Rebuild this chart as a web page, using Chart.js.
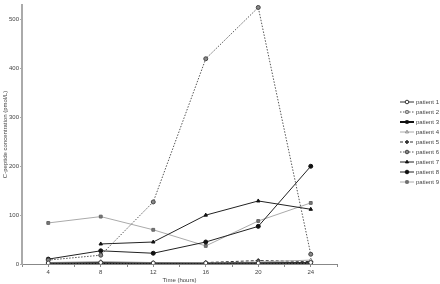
<!DOCTYPE html>
<html>
<head>
<meta charset="utf-8">
<script src="https://cdn.jsdelivr.net/npm/chart.js@4/dist/chart.umd.min.js"></script>
<style>
  html, body { margin: 0; padding: 0; background: #fff; }
  #wrap { width: 440px; height: 284px; }
</style>
</head>
<body>
<div id="wrap"><canvas id="chart" width="440" height="284"></canvas></div>
<script>
// Heures de prélèvement
const hours = [4, 8, 12, 16, 20, 24];
const xTickLabels = [4, 8, 12, 16, 20, 24];
const yTickLabels = [0, 100, 200, 300, 400, 500];

// Concentrations de C-peptide (pmol/L) par patient
const patient1 = [2, 3, 2, 2, 2, 3];
const patient2 = [1, 1, 1, 1, 1, 1];
const patient3 = [0, 0, 0, 0, 1, 2];
const patient4 = [3, 5, 3, 2, 4, 8];
const patient5 = [null, null, null, 3, 7, 5];
const patient6 = [8, 18, 127, 420, 525, 20];
const patient7 = [null, 41, 45, 100, 129, 112];
const patient8 = [10, 27, 22, 45, 77, 200];
const patient9 = [84, 97, 70, 37, 88, 125];

const FONT = '"Liberation Sans", Arial, sans-serif';

function toPoints(values) {
    return hours.map((h, i) => ({ x: h, y: values[i] }));
}

function makeSet(label, values, style) {
    return Object.assign({
        label: label,
        data: toPoints(values),
        borderWidth: 1,
        pointRadius: 2,
        pointBorderWidth: 1,
        tension: 0,
        spanGaps: false
    }, style);
}

const datasets = [
    makeSet('patient 1', patient1, { borderColor: '#333', pointStyle: 'circle', pointBackgroundColor: '#fff', pointBorderColor: '#333' }),
    makeSet('patient 2', patient2, { borderColor: '#555', borderDash: [1.5, 1.5], pointStyle: 'rect', pointBackgroundColor: '#fff', pointBorderColor: '#555' }),
    makeSet('patient 3', patient3, { borderColor: '#111', borderWidth: 2, pointStyle: 'rect', pointBackgroundColor: '#111', pointBorderColor: '#111' }),
    makeSet('patient 4', patient4, { borderColor: '#aaa', pointStyle: 'triangle', pointBackgroundColor: '#fff', pointBorderColor: '#888' }),
    makeSet('patient 5', patient5, { borderColor: '#333', borderDash: [3, 2], pointStyle: 'rectRot', pointBackgroundColor: '#333', pointBorderColor: '#333' }),
    makeSet('patient 6', patient6, { borderColor: '#555', borderDash: [1.5, 1.5], pointStyle: 'circle', pointBackgroundColor: '#888', pointBorderColor: '#444' }),
    makeSet('patient 7', patient7, { borderColor: '#222', pointStyle: 'triangle', pointBackgroundColor: '#111', pointBorderColor: '#111' }),
    makeSet('patient 8', patient8, { borderColor: '#222', pointStyle: 'circle', pointBackgroundColor: '#111', pointBorderColor: '#111' }),
    makeSet('patient 9', patient9, { borderColor: '#aaa', pointStyle: 'rect', pointBackgroundColor: '#777', pointBorderColor: '#666' })
];

// Légende dessinée à la main (trait + marqueur)
const sideLegend = {
    id: 'sideLegend',
    afterDraw(chart) {
        const ctx = chart.ctx;
        const x0 = 400, x1 = 414, y0 = 102, step = 10;
        ctx.save();
        ctx.font = '6px ' + FONT;
        ctx.textBaseline = 'middle';
        chart.data.datasets.forEach((ds, i) => {
            const y = y0 + i * step;
            ctx.strokeStyle = ds.borderColor;
            ctx.lineWidth = ds.borderWidth;
            ctx.setLineDash(ds.borderDash || []);
            ctx.beginPath();
            ctx.moveTo(x0, y);
            ctx.lineTo(x1, y);
            ctx.stroke();
            ctx.setLineDash([]);
            ctx.fillStyle = ds.pointBackgroundColor;
            ctx.strokeStyle = ds.pointBorderColor;
            ctx.lineWidth = 1;
            Chart.helpers.drawPoint(ctx, { pointStyle: ds.pointStyle, radius: 1.8, borderWidth: 1, rotation: 0 }, (x0 + x1) / 2, y);
            ctx.fillStyle = '#444';
            ctx.fillText(ds.label, 416, y + 0.5);
        });
        ctx.restore();
    }
};

new Chart(document.getElementById('chart').getContext('2d'), {
    type: 'line',
    data: { datasets: datasets },
    plugins: [sideLegend],
    options: {
        responsive: false,
        animation: false,
        layout: { padding: { left: 0, right: 103, top: 2, bottom: 0 } },
        plugins: {
            legend: { display: false },
            tooltip: { enabled: false }
        },
        scales: {
            x: {
                type: 'linear',
                min: 2,
                max: 26,
                afterFit: s => { s.height = 20; },
                grid: { drawOnChartArea: false, tickLength: 3, color: '#888' },
                border: { color: '#888', width: 1 },
                ticks: {
                    stepSize: 2,
                    autoSkip: false,
                    maxRotation: 0,
                    padding: 2,
                    color: '#444',
                    font: { family: FONT, size: 6 },
                    callback: v => xTickLabels.includes(v) ? String(v) : ''
                },
                title: {
                    display: true,
                    text: 'Time (hours)',
                    color: '#444',
                    padding: 0,
                    font: { family: FONT, size: 6 }
                }
            },
            y: {
                min: 0,
                max: 530,
                afterFit: s => { s.width = 22; },
                afterBuildTicks: s => { s.ticks = s.ticks.filter(t => yTickLabels.includes(t.value)); },
                grid: { drawOnChartArea: false, tickLength: 2, color: '#aaa' },
                border: { color: '#aaa', width: 2 },
                ticks: {
                    stepSize: 100,
                    padding: 1,
                    color: '#444',
                    font: { family: FONT, size: 6 }
                },
                title: {
                    display: true,
                    text: 'C-peptide concentration (pmol/L)',
                    color: '#444',
                    padding: { top: 2, bottom: 0 },
                    font: { family: FONT, size: 6 }
                }
            }
        }
    }
});
</script>
</body>
</html>
